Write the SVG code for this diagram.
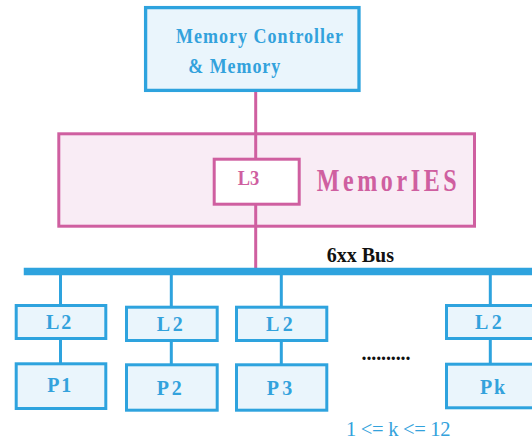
<svg xmlns="http://www.w3.org/2000/svg" width="532" height="440" viewBox="0 0 532 440">
  <style>
    .bbox { fill: #EAF5FC; stroke: #2EA3DE; stroke-width: 3; }
    .pbox { fill: #F9ECF5; stroke: #CF5FA0; stroke-width: 3; }
    .wbox { fill: #FFFFFF; stroke: #CF5FA0; stroke-width: 3; }
    .btxt { fill: #33A2DC; font-family: "Liberation Serif", "Times New Roman", serif; font-weight: bold; font-size: 20px; }
    .ptxt { fill: #CF5FA0; font-family: "Liberation Serif", "Times New Roman", serif; font-weight: bold; }
    .ktxt { fill: #111111; font-family: "Liberation Serif", "Times New Roman", serif; font-weight: bold; font-size: 20px; }
    .blink { stroke: #2EA3DE; stroke-width: 3; fill: none; }
    .plink { stroke: #CF5FA0; stroke-width: 3; fill: none; }
  </style>

  <!-- memory controller -->
  <g id="memctrl">
    <rect class="bbox" x="145.6" y="7.6" width="213.4" height="82.8" style="stroke-width:3.3"/>
    <text class="btxt" transform="translate(176,43.3) scale(0.9,1)" textLength="185.6" lengthAdjust="spacing">Memory Controller</text>
    <text class="btxt" transform="translate(188.3,73.3) scale(0.9,1)" textLength="102.2" lengthAdjust="spacing">&amp; Memory</text>
  </g>

  <!-- MemorIES board -->
  <g id="memories">
    <rect class="pbox" x="58.8" y="133.8" width="415.7" height="92.4"/>
    <text class="ptxt" font-size="32" transform="translate(316.7,190.7) scale(0.75,1)" textLength="186.7" lengthAdjust="spacing">MemorIES</text>
  </g>

  <!-- connectors -->
  <g id="connectors">
    <line class="plink" x1="255.7" y1="92" x2="255.7" y2="268"/>
    <line id="bus" x1="23.75" y1="271.5" x2="532" y2="271.5" stroke="#2EA3DE" stroke-width="7.5"/>
    <line class="blink" x1="60.5" y1="275" x2="60.5" y2="305"/>
    <line class="blink" x1="60.5" y1="340" x2="60.5" y2="363"/>
    <line class="blink" x1="171.3" y1="275" x2="171.3" y2="306"/>
    <line class="blink" x1="171.3" y1="342" x2="171.3" y2="364"/>
    <line class="blink" x1="281.3" y1="275" x2="281.3" y2="306"/>
    <line class="blink" x1="281.3" y1="342" x2="281.3" y2="364"/>
    <line class="blink" x1="490.3" y1="275" x2="490.3" y2="305"/>
    <line class="blink" x1="490.3" y1="340" x2="490.3" y2="363"/>
  </g>

  <!-- L3 cache -->
  <g id="l3">
    <rect class="wbox" x="214.2" y="159.2" width="85" height="45"/>
    <text class="ptxt" font-size="22" transform="translate(237.7,185) scale(0.84,1)" textLength="25.7" lengthAdjust="spacing">L3</text>
  </g>

  <text class="ktxt" x="326.7" y="262.3" textLength="67.3" lengthAdjust="spacing">6xx Bus</text>

  <!-- processor 1 -->
  <g id="l2-1">
    <rect class="bbox" x="16.2" y="305.5" width="89.6" height="33"/>
    <text class="btxt" x="46" y="329.3" textLength="25.3" lengthAdjust="spacing">L2</text>
  </g>
  <g id="p1">
    <rect class="bbox" x="16.2" y="363.8" width="89.6" height="44.7"/>
    <text class="btxt" x="47.3" y="392.3" textLength="24" lengthAdjust="spacing">P1</text>
  </g>

  <!-- processor 2 -->
  <g id="l2-2">
    <rect class="bbox" x="126.5" y="307.2" width="90.7" height="33.3"/>
    <text class="btxt" x="156.7" y="331" textLength="26" lengthAdjust="spacing">L2</text>
  </g>
  <g id="p2">
    <rect class="bbox" x="126.5" y="364.8" width="90.7" height="45.4"/>
    <text class="btxt" x="156.7" y="395" textLength="25" lengthAdjust="spacing">P2</text>
  </g>

  <!-- processor 3 -->
  <g id="l2-3">
    <rect class="bbox" x="236.5" y="307.2" width="90.3" height="33.3"/>
    <text class="btxt" x="266" y="331" textLength="26.7" lengthAdjust="spacing">L2</text>
  </g>
  <g id="p3">
    <rect class="bbox" x="236.5" y="364.8" width="90.3" height="45.4"/>
    <text class="btxt" x="266.7" y="395" textLength="25.6" lengthAdjust="spacing">P3</text>
  </g>

  <!-- processor k -->
  <g id="l2-k">
    <rect class="bbox" x="446.5" y="305.5" width="100" height="33"/>
    <text class="btxt" x="475" y="329.3" textLength="26.7" lengthAdjust="spacing">L2</text>
  </g>
  <g id="pk">
    <rect class="bbox" x="446.5" y="364.2" width="100" height="43.6"/>
    <text class="btxt" x="480" y="394.3" textLength="25" lengthAdjust="spacing">Pk</text>
  </g>

  <text x="361.5" y="360" font-family="'Liberation Serif', 'Times New Roman', serif" font-size="20" font-weight="bold" fill="#111111" textLength="49" lengthAdjust="spacing">..........</text>

  <text x="346" y="435.5" font-family="'Liberation Serif', 'Times New Roman', serif" font-size="20.5" fill="#33A2DC" textLength="104.5" lengthAdjust="spacing">1 &lt;= k &lt;= 12</text>
</svg>
